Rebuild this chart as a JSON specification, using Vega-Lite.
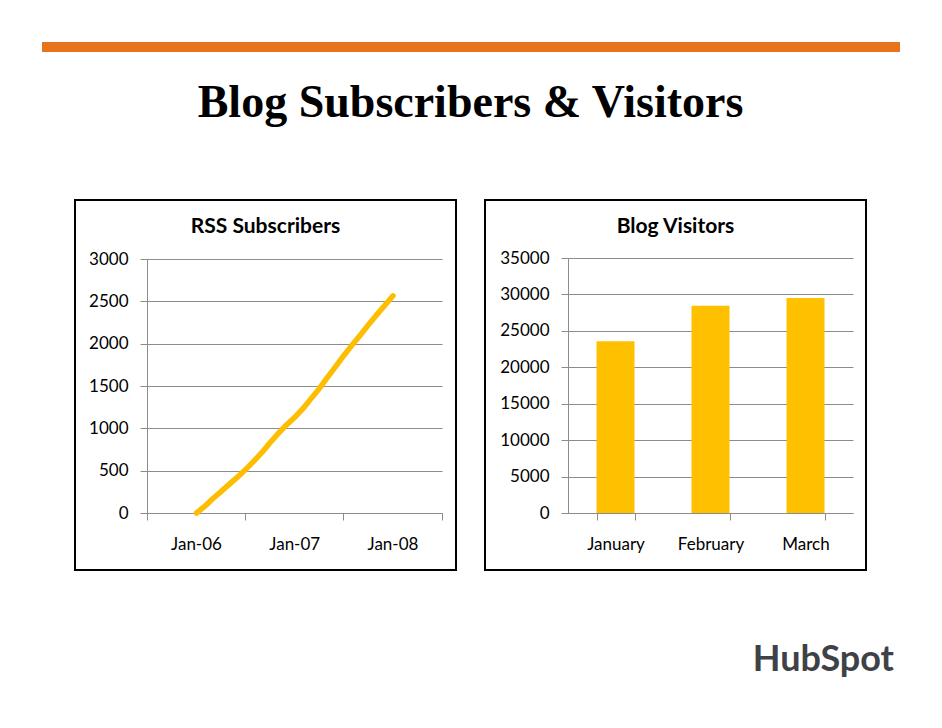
{
  "$schema": "https://vega.github.io/schema/vega-lite/v6.json",
  "background": "white",
  "padding": {"left": 42, "top": 42, "right": 0, "bottom": 0},
  "config": {
    "view": {"stroke": "black", "strokeWidth": 2},
    "font": "Lato",
    "axis": {
      "gridColor": "#8C8C8C",
      "gridWidth": 1,
      "gridOpacity": 1,
      "domainColor": "#8C8C8C",
      "domainWidth": 1,
      "tickColor": "#8C8C8C",
      "tickWidth": 1,
      "tickSize": 7,
      "labelFont": "Lato",
      "labelFontSize": 17,
      "labelColor": "black",
      "title": null
    }
  },
  "title": {
    "text": "HubSpot",
    "orient": "bottom",
    "anchor": "end",
    "offset": 72,
    "dx": -6,
    "font": "Lato",
    "fontSize": 36,
    "fontWeight": "bold",
    "color": "#3E4246"
  },
  "center": true,
  "spacing": 28,
  "vconcat": [
    {
      "width": 858,
      "height": 10,
      "view": {"fill": "#E8731E", "stroke": null},
      "data": {"values": [{"k": 1}]},
      "mark": {"type": "point", "opacity": 0},
      "encoding": {}
    },
    {
      "title": {
        "text": "Blog Subscribers & Visitors",
        "font": "Liberation Serif",
        "fontSize": 46,
        "fontWeight": "bold",
        "color": "black",
        "anchor": "middle",
        "offset": 72
      },
      "bounds": "flush",
      "spacing": 29,
      "hconcat": [
        {
          "width": 381,
          "height": 370,
          "title": {
            "text": "RSS Subscribers",
            "font": "Lato",
            "fontSize": 21,
            "fontWeight": "bold",
            "color": "black",
            "anchor": "middle",
            "offset": -37
          },
          "data": {
            "values": [
              {"month": "2006/01/01", "subscribers": 0},
              {"month": "2006/02/01", "subscribers": 80},
              {"month": "2006/03/01", "subscribers": 165},
              {"month": "2006/04/01", "subscribers": 250},
              {"month": "2006/05/01", "subscribers": 335},
              {"month": "2006/06/01", "subscribers": 420},
              {"month": "2006/07/01", "subscribers": 510},
              {"month": "2006/08/01", "subscribers": 610},
              {"month": "2006/09/01", "subscribers": 715},
              {"month": "2006/10/01", "subscribers": 830},
              {"month": "2006/11/01", "subscribers": 940},
              {"month": "2006/12/01", "subscribers": 1040},
              {"month": "2007/01/01", "subscribers": 1130},
              {"month": "2007/02/01", "subscribers": 1235},
              {"month": "2007/03/01", "subscribers": 1345},
              {"month": "2007/04/01", "subscribers": 1465},
              {"month": "2007/05/01", "subscribers": 1595},
              {"month": "2007/06/01", "subscribers": 1725},
              {"month": "2007/07/01", "subscribers": 1855},
              {"month": "2007/08/01", "subscribers": 1980},
              {"month": "2007/09/01", "subscribers": 2100},
              {"month": "2007/10/01", "subscribers": 2220},
              {"month": "2007/11/01", "subscribers": 2340},
              {"month": "2007/12/01", "subscribers": 2450},
              {"month": "2008/01/01", "subscribers": 2565}
            ]
          },
          "mark": {
            "type": "line",
            "color": "#FDBD00",
            "strokeWidth": 5.5,
            "strokeCap": "round",
            "strokeJoin": "round"
          },
          "encoding": {
            "x": {
              "field": "month",
              "type": "temporal",
              "scale": {
                "domain": [
                  {"year": 2005, "month": 7, "date": 1},
                  {"year": 2008, "month": 7, "date": 1}
                ],
                "range": [72, 367]
              },
              "axis": {
                "values": [
                  {"year": 2005, "month": 7, "date": 1},
                  {"year": 2006, "month": 7, "date": 1},
                  {"year": 2007, "month": 7, "date": 1},
                  {"year": 2008, "month": 7, "date": 1}
                ],
                "labelExpr": "year(datum.value) < 2008 ? timeFormat(datetime(year(datum.value) + 1, 0, 1), '%b-%y') : ''",
                "labelOffset": 49,
                "labelPadding": 16,
                "offset": -57,
                "grid": false,
                "labelFlush": false,
                "labelOverlap": false
              }
            },
            "y": {
              "field": "subscribers",
              "type": "quantitative",
              "scale": {"domain": [0, 3000], "range": [313, 59]},
              "axis": {
                "values": [0, 500, 1000, 1500, 2000, 2500, 3000],
                "format": "d",
                "offset": -72,
                "grid": true,
                "labelPadding": 12
              }
            }
          }
        },
        {
          "width": 381,
          "height": 370,
          "title": {
            "text": "Blog Visitors",
            "font": "Lato",
            "fontSize": 21,
            "fontWeight": "bold",
            "color": "black",
            "anchor": "middle",
            "offset": -37
          },
          "data": {
            "values": [
              {"month": "January", "visitors": 23560},
              {"month": "February", "visitors": 28460},
              {"month": "March", "visitors": 29510}
            ]
          },
          "mark": {"type": "bar", "color": "#FFC000"},
          "encoding": {
            "x": {
              "field": "month",
              "type": "nominal",
              "sort": null,
              "scale": {"range": [83, 368], "paddingInner": 0.6, "paddingOuter": 0.3},
              "axis": {
                "labelAngle": 0,
                "ticks": true,
                "tickBand": "extent",
                "labelPadding": 16,
                "offset": -57,
                "grid": false
              }
            },
            "y": {
              "field": "visitors",
              "type": "quantitative",
              "scale": {"domain": [0, 35000], "range": [313, 58]},
              "axis": {
                "values": [0, 5000, 10000, 15000, 20000, 25000, 30000, 35000],
                "format": "d",
                "offset": -83,
                "grid": true,
                "labelPadding": 12
              }
            }
          }
        }
      ]
    }
  ]
}
